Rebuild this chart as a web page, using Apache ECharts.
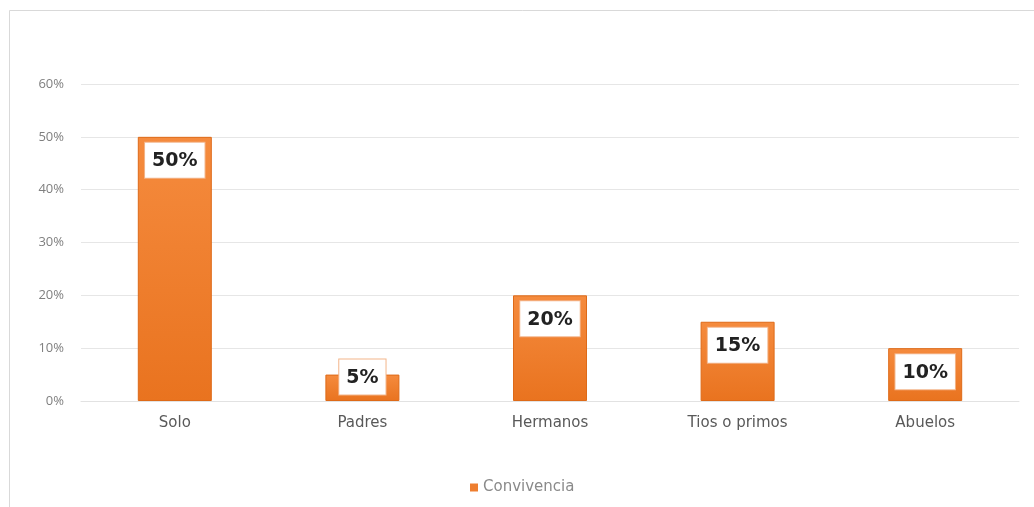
<!DOCTYPE html>
<html>
<head>
<meta charset="utf-8">
<script src="https://cdn.jsdelivr.net/npm/echarts@6/dist/echarts.min.js"></script>
<style>
  html, body { margin: 0; padding: 0; background: #ffffff; }
  #chart { width: 1034px; height: 507px; }
</style>
</head>
<body>
<div id="chart"></div>
<script>
// Living arrangement categories and their shares (%)
const categories = ['Solo', 'Padres', 'Hermanos', 'Tios o primos', 'Abuelos'];
const convivencia = [50, 5, 20, 15, 10];
const seriesName = 'Convivencia';
const yTicks = { min: 0, max: 60, interval: 10 };

const chart = echarts.init(document.getElementById('chart'), null, { renderer: 'canvas' });

const barColor = new echarts.graphic.LinearGradient(0, 0, 0, 1, [
  { offset: 0, color: '#F58B3E' },
  { offset: 1, color: '#E9731F' }
]);

// Small bars get their value box straddling the bar top instead of sitting inside it
const seriesData = convivencia.map(v => {
  const item = { value: v };
  if (v < 8) {
    item.label = { position: 'top', distance: -20 };
  }
  return item;
});

chart.setOption({
  backgroundColor: '#ffffff',
  animation: false,
  graphic: [{
    type: 'rect',
    shape: { x: 9.5, y: 10.5, width: 1100, height: 600 },
    style: { fill: 'none', stroke: '#d9d9d9', lineWidth: 1 },
    silent: true,
    z: -1
  }],
  grid: { left: 81, right: 15, top: 84, bottom: 106 },
  legend: {
    data: [seriesName],
    bottom: 7,
    left: 465,
    itemWidth: 8,
    itemHeight: 8,
    icon: 'rect',
    itemStyle: { color: '#EE7E30', borderWidth: 0 },
    textStyle: { color: '#8a8a8a', fontSize: 15, fontFamily: 'DejaVu Sans' }
  },
  xAxis: {
    type: 'category',
    data: categories,
    axisLine: { lineStyle: { color: '#e2e2e2' } },
    axisTick: { show: false },
    axisLabel: { color: '#595959', fontSize: 15, margin: 15, fontFamily: 'DejaVu Sans' }
  },
  yAxis: {
    type: 'value',
    min: yTicks.min,
    max: yTicks.max,
    interval: yTicks.interval,
    axisLine: { show: false },
    axisTick: { show: false },
    splitLine: { lineStyle: { color: '#e6e6e6' } },
    axisLabel: { color: '#7f7f7f', fontSize: 13, margin: 17, formatter: '{value}%', fontFamily: 'Open Sans' }
  },
  series: [{
    name: seriesName,
    type: 'bar',
    data: seriesData,
    barWidth: 74,
    itemStyle: { color: barColor, borderColor: '#DE6A18', borderWidth: 1 },
    label: {
      show: true,
      position: 'insideTop',
      distance: 6,
      formatter: '{c}%',
      color: '#222222',
      fontFamily: 'DejaVu Sans',
      fontWeight: 'bold',
      fontSize: 19,
      backgroundColor: '#ffffff',
      borderColor: '#F3B58A',
      borderWidth: 1,
      padding: [9, 7, 7, 7]
    }
  }]
});
</script>
</body>
</html>
